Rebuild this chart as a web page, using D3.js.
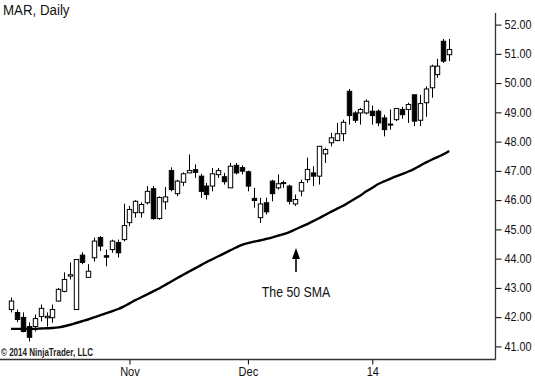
<!DOCTYPE html>
<html><head><meta charset="utf-8">
<script src="https://cdn.jsdelivr.net/npm/d3@7"></script>
<style>
body{margin:0;background:#fff;}
svg{display:block;}
text{font-family:'Liberation Sans',Arial,sans-serif;}
</style></head><body>
<svg id="chart" width="535" height="380"></svg>
<script>
const openV  = [42.26,42.16,41.99,41.68,41.68,42.02,41.98,41.98,42.55,42.88,43.40,42.26,44.12,43.36,44.03,44.72,44.10,44.31,44.55,44.65,45.23,45.57,45.57,45.91,46.39,45.37,45.94,47.01,46.22,46.61,46.93,47.04,46.82,46.48,46.48,46.87,46.80,46.42,47.19,47.11,46.97,46.06,45.40,45.91,46.65,46.42,46.58,46.48,45.87,46.31,46.70,46.93,46.82,47.58,47.96,48.04,48.27,49.72,48.98,48.98,48.98,49.04,49.04,48.81,48.60,48.75,49.10,49.10,49.60,48.73,49.33,49.84,50.29,51.43,50.97];
const highV  = [42.67,42.26,42.16,41.82,42.09,42.43,42.16,42.43,43.00,43.53,43.87,43.97,44.22,43.81,44.72,44.77,44.31,44.65,44.65,45.88,45.80,46.00,45.92,46.48,46.48,46.13,46.45,47.12,46.70,46.95,47.56,47.22,46.90,46.59,47.10,47.10,46.93,47.27,47.27,47.19,47.01,46.42,46.08,46.08,46.70,46.88,46.67,46.53,46.19,46.70,47.45,47.16,47.84,47.79,48.30,48.64,48.75,49.80,49.04,49.15,49.44,49.23,49.10,48.92,49.10,49.13,49.19,49.33,49.60,49.60,49.89,50.63,50.83,51.51,51.51];
const lowV   = [42.16,41.83,41.48,41.17,41.51,41.85,41.68,41.81,42.53,42.85,43.29,42.26,43.81,43.36,43.90,44.26,43.74,44.20,44.04,44.59,45.11,45.40,45.40,45.85,45.33,45.33,45.68,46.30,46.13,46.48,46.93,46.76,46.08,46.02,46.30,46.76,46.53,46.42,46.88,46.88,46.30,45.74,45.22,45.51,45.96,46.36,46.42,45.85,45.80,46.13,46.59,46.48,46.53,47.27,47.84,48.01,48.01,48.58,48.64,48.58,48.93,48.58,48.53,48.18,48.41,48.70,48.78,48.64,48.53,48.53,48.85,49.50,50.18,50.69,50.75];
const closeV = [42.55,41.92,41.51,41.31,41.95,42.30,42.03,42.26,42.95,43.29,43.45,43.97,43.87,43.57,44.60,44.43,44.05,44.60,44.20,45.13,45.68,45.96,45.85,46.30,45.37,46.09,46.11,46.36,46.65,46.90,47.01,46.95,46.30,46.19,46.90,47.01,46.63,47.16,46.93,46.99,46.48,45.99,45.87,45.60,46.22,46.56,46.60,45.96,46.02,46.60,47.05,46.82,47.84,47.73,48.13,48.27,48.66,48.89,48.73,49.10,49.38,48.89,48.64,48.41,48.58,49.13,48.92,49.27,48.70,49.30,49.80,50.58,50.58,50.75,51.15];
const sma50  = [41.60,41.60,41.60,41.60,41.60,41.61,41.62,41.63,41.65,41.69,41.74,41.80,41.86,41.92,41.99,42.06,42.13,42.20,42.27,42.36,42.47,42.58,42.68,42.78,42.88,42.98,43.10,43.21,43.33,43.44,43.55,43.66,43.77,43.88,43.98,44.08,44.18,44.28,44.38,44.47,44.53,44.58,44.62,44.67,44.72,44.78,44.84,44.91,45.00,45.09,45.18,45.28,45.38,45.49,45.60,45.70,45.80,45.92,46.04,46.16,46.30,46.42,46.55,46.64,46.73,46.81,46.89,46.97,47.06,47.17,47.28,47.38,47.47,47.57,47.68];
const yTicks = [41,42,43,44,45,46,47,48,49,50,51,52];
const xTickIndex = [20,40,61];
const xTickLabels = ["Nov","Dec","14"];

const svg = d3.select("#chart");
const plotRight = 495.5, plotBottom = 359.5, plotTop = 13;

function narrow(sel, f){
  sel.each(function(){
    const w = this.getComputedTextLength();
    d3.select(this).attr("textLength", w*f).attr("lengthAdjust","spacingAndGlyphs");
  });
}

const x = d3.scaleLinear().domain([0, openV.length-1]).range([11, 449.3]);
const y = d3.scaleLinear().domain([41, 52]).range([346.4, 24.6]);

// SMA line
const line = d3.line().x((d,i)=>x(i)).y(d=>y(d)).curve(d3.curveMonotoneX);
svg.append("path").attr("d", line(sma50)).attr("fill","none").attr("stroke","#000").attr("stroke-width",2.4);

// candles
const idx = d3.range(openV.length);
const bw = 4.4;
const g = svg.append("g");
g.selectAll("line.wick").data(idx).join("line")
  .attr("x1", i=>Math.round(x(i))+0.5).attr("x2", i=>Math.round(x(i))+0.5)
  .attr("y1", i=>y(highV[i])).attr("y2", i=>y(lowV[i]))
  .attr("stroke","#000").attr("stroke-width",1);
g.selectAll("rect.body").data(idx).join("rect")
  .attr("x", i=>Math.round(x(i))+0.5-bw/2)
  .attr("width", bw)
  .attr("y", i=>y(Math.max(openV[i],closeV[i])))
  .attr("height", i=>Math.max(1, Math.abs(y(openV[i])-y(closeV[i]))))
  .attr("fill", i=> closeV[i] >= openV[i] ? "#fff" : "#000")
  .attr("stroke","#000").attr("stroke-width",1);

// right axis
const yAxis = d3.axisRight(y).tickValues(yTicks).tickFormat(d3.format(".2f")).tickSize(6).tickPadding(3);
const ya = svg.append("g").attr("transform",`translate(${plotRight},0)`).call(yAxis);
ya.select(".domain").remove();
ya.selectAll("text").attr("font-size",12).attr("fill","#111").call(narrow, 0.9);
svg.append("line").attr("x1",plotRight).attr("x2",plotRight).attr("y1",plotTop).attr("y2",plotBottom).attr("stroke","#333").attr("stroke-width",1.3);

// bottom axis
const xAxis = d3.axisBottom(x).tickValues(xTickIndex).tickFormat((d,i)=>xTickLabels[i]).tickSize(5).tickPadding(3);
const xa = svg.append("g").attr("transform",`translate(0,${plotBottom})`).call(xAxis);
xa.select(".domain").remove();
xa.selectAll("text").attr("font-size",12).attr("fill","#111").call(narrow, 0.92);
svg.append("line").attr("x1",0).attr("x2",plotRight).attr("y1",plotBottom).attr("y2",plotBottom).attr("stroke","#333").attr("stroke-width",1.3);

// title & copyright
svg.append("text").attr("x",3).attr("y",15).attr("font-size",14).attr("fill","#111").text("MAR, Daily").call(narrow, 0.95);
svg.append("text").attr("x",1).attr("y",356).attr("font-size",10).attr("font-weight","bold").attr("fill","#222")
  .text("© 2014 NinjaTrader, LLC").attr("textLength",92).attr("lengthAdjust","spacingAndGlyphs");

// annotation arrow
const ax = 296;
svg.append("line").attr("x1",ax).attr("x2",ax).attr("y1",256).attr("y2",272).attr("stroke","#000").attr("stroke-width",1.6);
svg.append("path").attr("d",`M${ax},248 L${ax-4},259 L${ax+4},259 Z`).attr("fill","#000");
svg.append("text").attr("x",ax).attr("y",297).attr("text-anchor","middle").attr("font-size",14).attr("fill","#111").text("The 50 SMA").call(narrow, 0.88);
</script>
</body></html>
